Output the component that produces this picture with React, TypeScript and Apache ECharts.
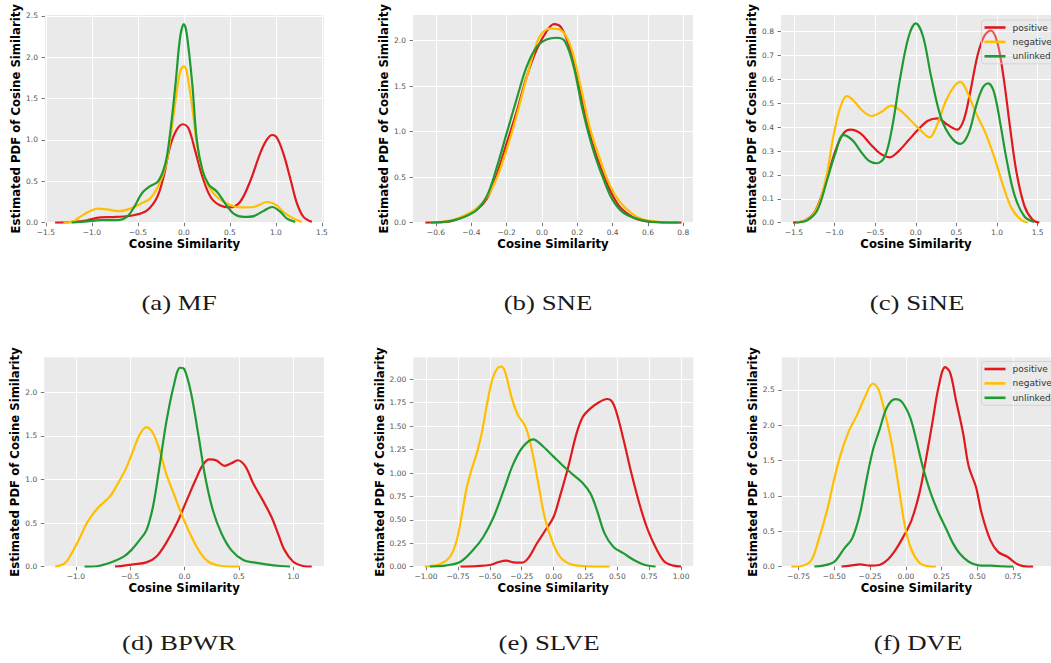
import React, { useEffect, useRef } from 'react';
import * as echarts from 'echarts';

type Pt = [number, number];

// ---- series names and colours ----
const seriesNames = ['positive', 'negative', 'unlinked'];
const lineColors = ['#e0191c', '#ffbf00', '#1f9a33'];

// ---- (a) MF ----
const mfPositive: Pt[] = [[-1.40,0],[-1.2,0.01],[-1.05,0.03],[-0.91,0.065],[-0.73,0.07],[-0.55,0.09],[-0.40,0.15],[-0.29,0.31],[-0.22,0.56],[-0.15,0.92],[-0.08,1.12],[-0.01,1.19],[0.05,1.14],[0.12,0.88],[0.20,0.56],[0.29,0.31],[0.39,0.21],[0.50,0.185],[0.61,0.25],[0.72,0.50],[0.83,0.84],[0.90,1.00],[0.96,1.06],[1.01,1.03],[1.08,0.84],[1.16,0.52],[1.23,0.23],[1.30,0.07],[1.39,0.01]];
const mfNegative: Pt[] = [[-1.31,0],[-1.22,0.01],[-1.13,0.07],[-1.04,0.13],[-0.93,0.17],[-0.84,0.16],[-0.71,0.14],[-0.58,0.17],[-0.47,0.23],[-0.37,0.29],[-0.28,0.44],[-0.20,0.68],[-0.15,1.0],[-0.09,1.48],[-0.04,1.83],[0.0,1.89],[0.03,1.83],[0.09,1.40],[0.14,0.96],[0.20,0.64],[0.27,0.44],[0.36,0.31],[0.47,0.23],[0.61,0.185],[0.76,0.19],[0.90,0.25],[1.01,0.21],[1.08,0.13],[1.19,0.05],[1.28,0.01]];
const mfUnlinked: Pt[] = [[-1.22,0],[-1.05,0.016],[-0.91,0.03],[-0.73,0.03],[-0.62,0.07],[-0.53,0.21],[-0.46,0.35],[-0.37,0.44],[-0.28,0.50],[-0.20,0.72],[-0.15,1.08],[-0.09,1.69],[-0.04,2.25],[0.0,2.40],[0.03,2.29],[0.09,1.69],[0.14,1.0],[0.20,0.64],[0.27,0.46],[0.36,0.375],[0.45,0.23],[0.54,0.11],[0.65,0.07],[0.76,0.08],[0.87,0.145],[0.96,0.19],[1.05,0.13],[1.12,0.05],[1.21,0.01]];
const mfXTicks = [-1.5, -1, -0.5, 0, 0.5, 1, 1.5];
const mfYTicks = [0, 0.5, 1, 1.5, 2, 2.5];

// ---- (b) SNE ----
const snePositive: Pt[] = [[-0.66,0],[-0.52,0.015],[-0.445,0.066],[-0.37,0.14],[-0.31,0.27],[-0.26,0.505],[-0.20,0.87],[-0.14,1.24],[-0.087,1.60],[-0.03,1.90],[0.026,2.10],[0.068,2.18],[0.11,2.14],[0.16,1.90],[0.215,1.46],[0.27,0.98],[0.33,0.615],[0.385,0.36],[0.44,0.176],[0.51,0.066],[0.57,0.022],[0.67,0.004],[0.79,0]];
const sneNegative: Pt[] = [[-0.63,0],[-0.52,0.022],[-0.445,0.073],[-0.37,0.157],[-0.31,0.285],[-0.26,0.47],[-0.20,0.80],[-0.14,1.20],[-0.087,1.59],[-0.03,1.97],[0.0,2.08],[0.045,2.13],[0.10,2.12],[0.16,1.95],[0.215,1.53],[0.27,1.05],[0.33,0.69],[0.385,0.41],[0.44,0.23],[0.51,0.10],[0.57,0.037],[0.67,0.007],[0.78,0]];
const sneUnlinked: Pt[] = [[-0.63,0],[-0.52,0.018],[-0.445,0.059],[-0.37,0.14],[-0.31,0.30],[-0.26,0.58],[-0.20,0.98],[-0.14,1.38],[-0.087,1.71],[-0.03,1.93],[0.026,2.01],[0.083,2.03],[0.13,1.99],[0.18,1.71],[0.23,1.24],[0.29,0.80],[0.35,0.47],[0.40,0.25],[0.46,0.11],[0.53,0.048],[0.61,0.011],[0.78,0]];
const sneXTicks = [-0.6, -0.4, -0.2, 0, 0.2, 0.4, 0.6, 0.8];
const sneYTicks = [0, 0.5, 1, 1.5, 2];

// ---- (c) SiNE ----
const sinePositive: Pt[] = [[-1.51,0],[-1.35,0.011],[-1.23,0.053],[-1.11,0.165],[-0.99,0.30],[-0.89,0.374],[-0.80,0.39],[-0.68,0.374],[-0.56,0.33],[-0.44,0.29],[-0.32,0.274],[-0.21,0.30],[-0.087,0.346],[0.03,0.39],[0.15,0.427],[0.27,0.437],[0.39,0.41],[0.51,0.39],[0.59,0.43],[0.66,0.53],[0.76,0.70],[0.84,0.78],[0.92,0.805],[1.0,0.76],[1.08,0.61],[1.16,0.40],[1.24,0.21],[1.34,0.067],[1.44,0.011],[1.52,0]];
const sineNegative: Pt[] = [[-1.47,0],[-1.31,0.018],[-1.19,0.08],[-1.09,0.21],[-1.02,0.35],[-0.94,0.47],[-0.85,0.53],[-0.76,0.51],[-0.66,0.47],[-0.54,0.447],[-0.42,0.465],[-0.30,0.49],[-0.19,0.47],[-0.067,0.43],[0.05,0.39],[0.17,0.357],[0.27,0.416],[0.37,0.51],[0.47,0.57],[0.55,0.59],[0.63,0.55],[0.74,0.46],[0.86,0.374],[0.98,0.26],[1.08,0.15],[1.18,0.06],[1.30,0.011],[1.38,0]];
const sineUnlinked: Pt[] = [[-1.47,0],[-1.33,0.011],[-1.21,0.053],[-1.09,0.18],[-0.99,0.29],[-0.89,0.367],[-0.78,0.346],[-0.68,0.30],[-0.58,0.26],[-0.48,0.249],[-0.38,0.277],[-0.29,0.40],[-0.19,0.61],[-0.087,0.78],[0.0,0.835],[0.09,0.78],[0.19,0.61],[0.31,0.44],[0.43,0.36],[0.55,0.33],[0.65,0.374],[0.74,0.486],[0.82,0.563],[0.89,0.584],[0.96,0.55],[1.04,0.416],[1.12,0.26],[1.22,0.11],[1.34,0.025],[1.46,0.003]];
const sineXTicks = [-1.5, -1, -0.5, 0, 0.5, 1, 1.5];
const sineYTicks = [0, 0.1, 0.2, 0.3, 0.4, 0.5, 0.6, 0.7, 0.8];

// ---- (d) BPWR ----
const bpwrPositive: Pt[] = [[-0.64,0],[-0.47,0.027],[-0.35,0.05],[-0.26,0.115],[-0.17,0.27],[-0.07,0.50],[0.02,0.76],[0.10,0.99],[0.17,1.17],[0.23,1.23],[0.29,1.22],[0.37,1.155],[0.43,1.185],[0.49,1.22],[0.56,1.15],[0.63,0.96],[0.72,0.76],[0.80,0.57],[0.86,0.38],[0.92,0.19],[1.0,0.057],[1.08,0.011],[1.17,0]];
const bpwrNegative: Pt[] = [[-1.19,0],[-1.10,0.04],[-1.04,0.15],[-0.96,0.34],[-0.89,0.52],[-0.80,0.67],[-0.69,0.80],[-0.61,0.96],[-0.53,1.15],[-0.47,1.34],[-0.41,1.52],[-0.35,1.60],[-0.29,1.53],[-0.23,1.34],[-0.17,1.07],[-0.10,0.84],[-0.03,0.61],[0.05,0.38],[0.14,0.17],[0.22,0.057],[0.33,0.011],[0.51,0]];
const bpwrUnlinked: Pt[] = [[-0.92,0],[-0.78,0.011],[-0.66,0.057],[-0.56,0.115],[-0.49,0.19],[-0.41,0.31],[-0.35,0.42],[-0.29,0.69],[-0.23,1.15],[-0.17,1.64],[-0.10,2.07],[-0.04,2.28],[0.0,2.26],[0.06,1.99],[0.13,1.49],[0.19,1.03],[0.26,0.65],[0.34,0.38],[0.43,0.19],[0.54,0.076],[0.65,0.046],[0.75,0.027],[0.88,0.008],[0.97,0]];
const bpwrXTicks = [-1, -0.5, 0, 0.5, 1];
const bpwrYTicks = [0, 0.5, 1, 1.5, 2];

// ---- (e) SLVE ----
const slvePositive: Pt[] = [[-0.73,0],[-0.60,0.007],[-0.50,0.018],[-0.43,0.05],[-0.37,0.064],[-0.315,0.046],[-0.25,0.043],[-0.20,0.089],[-0.13,0.25],[-0.054,0.41],[0.0,0.53],[0.05,0.75],[0.116,1.07],[0.18,1.42],[0.23,1.60],[0.29,1.69],[0.35,1.75],[0.42,1.79],[0.46,1.76],[0.495,1.64],[0.55,1.35],[0.61,1.0],[0.68,0.64],[0.74,0.39],[0.81,0.18],[0.87,0.053],[0.94,0.011],[1.0,0]];
const slveNegative: Pt[] = [[-1.01,0],[-0.89,0.028],[-0.81,0.11],[-0.76,0.28],[-0.72,0.55],[-0.68,0.85],[-0.64,1.05],[-0.60,1.22],[-0.56,1.45],[-0.52,1.75],[-0.48,2.0],[-0.44,2.12],[-0.41,2.135],[-0.38,2.08],[-0.33,1.81],[-0.28,1.62],[-0.22,1.495],[-0.17,1.245],[-0.12,0.89],[-0.07,0.53],[-0.014,0.285],[0.05,0.107],[0.13,0.028],[0.23,0.007],[0.44,0]];
const slveUnlinked: Pt[] = [[-0.97,0],[-0.84,0.014],[-0.73,0.053],[-0.63,0.18],[-0.55,0.32],[-0.47,0.53],[-0.39,0.82],[-0.315,1.10],[-0.24,1.28],[-0.16,1.36],[-0.08,1.28],[0.0,1.175],[0.08,1.07],[0.155,0.98],[0.23,0.89],[0.29,0.78],[0.34,0.605],[0.40,0.356],[0.47,0.21],[0.55,0.142],[0.63,0.071],[0.71,0.021],[0.80,0]];
const slveXTicks = [-1, -0.75, -0.5, -0.25, 0, 0.25, 0.5, 0.75, 1];
const slveYTicks = [0, 0.25, 0.5, 0.75, 1, 1.25, 1.5, 1.75, 2];

// ---- (f) DVE ----
const dvePositive: Pt[] = [[-0.45,0],[-0.39,0.014],[-0.32,0.033],[-0.25,0.014],[-0.185,0.024],[-0.13,0.094],[-0.073,0.236],[-0.017,0.425],[0.04,0.66],[0.095,1.04],[0.14,1.51],[0.185,2.03],[0.23,2.55],[0.275,2.82],[0.31,2.74],[0.35,2.36],[0.40,1.89],[0.44,1.415],[0.49,1.13],[0.53,0.755],[0.59,0.38],[0.645,0.21],[0.71,0.14],[0.77,0.047],[0.82,0.009],[0.89,0]];
const dveNegative: Pt[] = [[-0.80,0],[-0.72,0.014],[-0.66,0.094],[-0.61,0.38],[-0.55,0.80],[-0.51,1.16],[-0.46,1.56],[-0.40,1.91],[-0.34,2.15],[-0.29,2.38],[-0.23,2.59],[-0.19,2.5],[-0.14,2.12],[-0.095,1.70],[-0.05,1.13],[-0.006,0.57],[0.04,0.236],[0.095,0.057],[0.15,0.009],[0.21,0]];
const dveUnlinked: Pt[] = [[-0.64,0],[-0.57,0.019],[-0.50,0.07],[-0.43,0.26],[-0.375,0.40],[-0.32,0.755],[-0.275,1.23],[-0.23,1.65],[-0.185,1.93],[-0.13,2.26],[-0.073,2.37],[-0.028,2.33],[0.028,2.12],[0.073,1.79],[0.118,1.415],[0.174,1.04],[0.23,0.755],[0.286,0.52],[0.33,0.33],[0.375,0.19],[0.44,0.07],[0.51,0.019],[0.60,0.014],[0.68,0.005],[0.75,0]];
const dveXTicks = [-0.75, -0.5, -0.25, 0, 0.25, 0.5, 0.75];
const dveYTicks = [0, 0.5, 1, 1.5, 2, 2.5];

const captions = ['(a) MF', '(b) SNE', '(c) SiNE', '(d) BPWR', '(e) SLVE', '(f) DVE'];

const panels = [
  { curves: [mfPositive, mfNegative, mfUnlinked], xTicks: mfXTicks, yTicks: mfYTicks, xDigits: 1, yDigits: 1 },
  { curves: [snePositive, sneNegative, sneUnlinked], xTicks: sneXTicks, yTicks: sneYTicks, xDigits: 1, yDigits: 1 },
  { curves: [sinePositive, sineNegative, sineUnlinked], xTicks: sineXTicks, yTicks: sineYTicks, xDigits: 1, yDigits: 1 },
  { curves: [bpwrPositive, bpwrNegative, bpwrUnlinked], xTicks: bpwrXTicks, yTicks: bpwrYTicks, xDigits: 1, yDigits: 1 },
  { curves: [slvePositive, slveNegative, slveUnlinked], xTicks: slveXTicks, yTicks: slveYTicks, xDigits: 2, yDigits: 2 },
  { curves: [dvePositive, dveNegative, dveUnlinked], xTicks: dveXTicks, yTicks: dveYTicks, xDigits: 2, yDigits: 1 },
];

// plot rectangles, axis extents and caption anchors (pixels)
const layout = [
  { left: 45, top: 15, width: 279, height: 207.7, xMin: -1.51, xMax: 1.523, yMax: 2.51, yNameGap: 22, capX: 179, capY: 302 },
  { left: 413, top: 15, width: 280, height: 207.7, xMin: -0.73, xMax: 0.855, yMax: 2.28, yNameGap: 22, capX: 548, capY: 302 },
  { left: 781, top: 15, width: 280, height: 207.7, xMin: -1.658, xMax: 1.664, yMax: 0.87, yNameGap: 20, capX: 917, capY: 302 },
  { left: 44.3, top: 357.3, width: 279.7, height: 209.4, xMin: -1.29, xMax: 1.283, yMax: 2.4, yNameGap: 21.5, capX: 179, capY: 642.5 },
  { left: 413.3, top: 357.3, width: 280, height: 209.4, xMin: -1.1, xMax: 1.096, yMax: 2.235, yNameGap: 27, capX: 549, capY: 642.5 },
  { left: 781.7, top: 357.3, width: 280, height: 209.4, xMin: -0.868, xMax: 1.015, yMax: 2.96, yNameGap: 20.5, capX: 918, capY: 642.5 },
];

const SANS = 'DejaVu Sans';
const fmt = (d: number) => (v: number) => v.toFixed(d).replace('-', '\u2212');

function buildOption(): echarts.EChartsOption {
  const grid = layout.map((g) => ({
    left: g.left, top: g.top, width: g.width, height: g.height,
    show: true, backgroundColor: '#EAEAEA', borderWidth: 0,
  }));

  const tickStyle = { show: true, length: 3.5, lineStyle: { color: '#555555', width: 0.8 } };
  const labelStyle = { color: '#555555', fontSize: 7.5, fontFamily: SANS };
  const nameStyle = { color: '#000000', fontSize: 11.7, fontWeight: 'bold' as const, fontFamily: SANS };
  const split = { show: true, lineStyle: { color: '#ffffff', width: 1 } };

  const xAxis = panels.map((p, i) => ({
    type: 'value' as const, gridIndex: i, min: layout[i].xMin, max: layout[i].xMax,
    axisLine: { show: false, onZero: false },
    axisTick: { ...tickStyle, customValues: p.xTicks },
    axisLabel: { ...labelStyle, margin: 6, customValues: p.xTicks, formatter: fmt(p.xDigits) },
    splitLine: split,
    name: 'Cosine Similarity', nameLocation: 'middle' as const, nameGap: 15.5, nameTextStyle: nameStyle,
  }));

  const yAxis = panels.map((p, i) => ({
    type: 'value' as const, gridIndex: i, min: 0, max: layout[i].yMax,
    axisLine: { show: false, onZero: false },
    axisTick: { ...tickStyle, customValues: p.yTicks },
    axisLabel: { ...labelStyle, margin: 7, customValues: p.yTicks, formatter: fmt(p.yDigits) },
    splitLine: split,
    name: 'Estimated PDF of Cosine Similarity', nameLocation: 'middle' as const,
    nameGap: layout[i].yNameGap, nameTextStyle: nameStyle,
  }));

  const series: any[] = [];
  panels.forEach((p, i) => {
    p.curves.forEach((curve, k) => {
      series.push({
        type: 'line', name: seriesNames[k], xAxisIndex: i, yAxisIndex: i,
        data: curve, showSymbol: false, smooth: 0.35, silent: true,
        lineStyle: { color: lineColors[k], width: 2.2 },
        itemStyle: { color: lineColors[k] },
        emphasis: { disabled: true },
      });
    });
  });

  const legendBase = {
    orient: 'vertical' as const,
    data: seriesNames.map((n) => ({ name: n, icon: 'rect' })),
    itemWidth: 21, itemHeight: 2.6, itemGap: 5.4,
    padding: [3, 6, 3, 3],
    backgroundColor: 'rgba(234,234,234,0.3)',
    borderColor: '#cfcfcf', borderWidth: 0.8, borderRadius: 3,
    textStyle: { color: '#333333', fontSize: 9, fontFamily: SANS, padding: [0, 0, 0, 2] },
    selectedMode: false as const,
  };

  const legend = [
    { ...legendBase, left: 981.5, top: 20 },
    { ...legendBase, left: 981.5, top: 361.5 },
  ];

  const graphic = layout.map((g, i) => ({
    type: 'text' as const, x: g.capX, y: g.capY, scaleX: 1.22, silent: true,
    style: {
      text: captions[i], fill: '#1a1a1a',
      font: '22px "Liberation Serif", "Times New Roman", serif',
      textAlign: 'center' as const, textVerticalAlign: 'middle' as const,
    },
  }));

  return { animation: false, backgroundColor: '#ffffff', grid, xAxis, yAxis, series, legend, graphic } as any;
}

export default function App() {
  const ref = useRef<HTMLDivElement>(null);
  useEffect(() => {
    if (!ref.current) return;
    const chart = echarts.init(ref.current, undefined, { renderer: 'svg' });
    chart.setOption(buildOption());
    return () => chart.dispose();
  }, []);
  return <div ref={ref} style={{ position: 'absolute', left: 0, top: 0, width: 1051, height: 663 }} />;
}
